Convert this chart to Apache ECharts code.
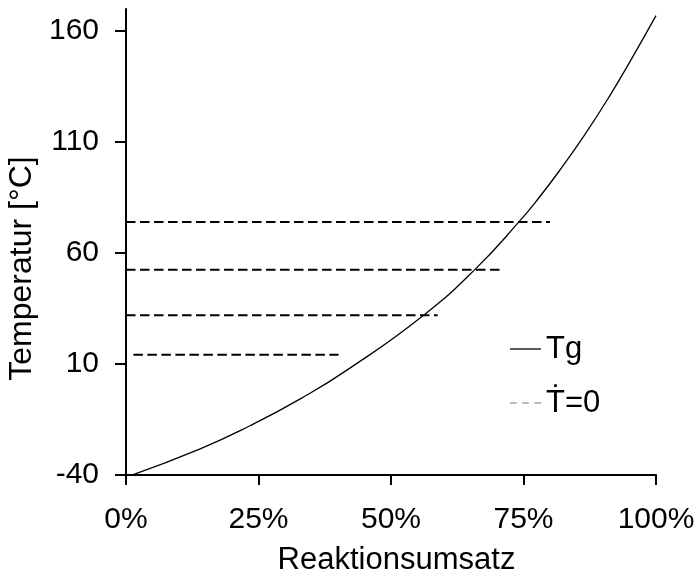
<!DOCTYPE html>
<html>
<head>
<meta charset="utf-8">
<script src="https://cdn.jsdelivr.net/npm/echarts@6/dist/echarts.min.js"></script>
<style>html,body{margin:0;padding:0;background:#fff}#c{width:697px;height:576px}</style>
</head>
<body>
<div id="c"></div>
<script>
// Tg curve: [Reaktionsumsatz %, Temperatur °C]
const tgCurve = [
  [0, -41], [14.0, -28.2], [23.4, -17.8], [32.8, -5.8], [41.9, 7.6],
  [56.1, 31.9], [66.0, 53.0], [74.3, 74.5], [78.1, 85.5], [81.9, 97.5],
  [86.6, 113.5], [91.3, 131.0], [95.5, 148.0], [100, 167.0]
];
// T-dot = 0 isotherms: [start %, end %, temperature °C]
const isoStart = [0, 0, 0, 1.4];
const isoEnd = [80.0, 71.3, 58.8, 40.1];
const isoTemp = [74.0, 52.5, 32.0, 14.2];
const xTicks = [0, 25, 50, 75, 100];
const yTicks = [-40, 10, 60, 110, 160];
const names = { tg: 'Tg', tdot: 'Ṫ=0', x: 'Reaktionsumsatz', y: 'Temperatur [°C]' };

const FONT = '"Liberation Sans", Arial, "DejaVu Sans", sans-serif';
const chart = echarts.init(document.getElementById('c'));

const isoSeries = isoTemp.map((t, i) => ({
  name: names.tdot,
  type: 'line',
  data: [[isoStart[i], t], [isoEnd[i], t]],
  symbol: 'none',
  itemStyle: { color: '#000' },
  lineStyle: { color: '#000', width: 2, type: [9.5, 4.5] },
  z: 3
}));

chart.setOption({
  animation: false,
  backgroundColor: '#fff',
  grid: { left: 126, right: 41, top: 9, bottom: 101, containLabel: false, outerBoundsMode: 'none' },
  xAxis: {
    type: 'value', min: 0, max: 100, interval: 25,
    name: names.x, nameLocation: 'middle', nameGap: 70,
    nameTextStyle: { fontSize: 31, fontFamily: FONT, color: '#000', padding: [0, 0, 0, 11] },
    axisLine: { show: true, onZero: false, lineStyle: { color: '#000', width: 2 } },
    axisTick: { show: true, length: 10, lineStyle: { color: '#000', width: 2 }, customValues: xTicks },
    axisLabel: { fontSize: 30, fontFamily: FONT, color: '#000', margin: 30, customValues: xTicks,
      formatter: v => v + '%' },
    splitLine: { show: false }
  },
  yAxis: {
    type: 'value', min: -40, max: 170,
    name: names.y, nameLocation: 'middle', nameGap: 79,
    nameTextStyle: { fontSize: 32, fontFamily: FONT, color: '#000', padding: [0, 53, 0, 0] },
    axisLine: { show: true, onZero: false, lineStyle: { color: '#000', width: 2 } },
    axisTick: { show: true, length: 11, lineStyle: { color: '#000', width: 2 }, customValues: yTicks },
    axisLabel: { fontSize: 30, fontFamily: FONT, color: '#000', margin: 27, customValues: yTicks },
    splitLine: { show: false }
  },
  legend: {
    orient: 'vertical', left: 505, top: 327,
    itemWidth: 31, itemHeight: 1.3, itemGap: 20,
    textStyle: { fontSize: 31, fontFamily: FONT, color: '#000', lineHeight: 34 },
    data: [
      { name: names.tg, icon: 'rect', itemStyle: { color: '#000' } },
      { name: names.tdot, icon: 'path://M5,0H11V1H5Z M16,0H22V1H16Z M27,0H33V1H27Z',
        itemStyle: { color: '#777' } }
    ]
  },
  series: [
    {
      name: names.tg, type: 'line', data: tgCurve, smooth: 0.5, symbol: 'none',
      itemStyle: { color: '#000' },
      lineStyle: { color: '#000', width: 1.3 }, z: 4
    },
    ...isoSeries
  ]
});
</script>
</body>
</html>
